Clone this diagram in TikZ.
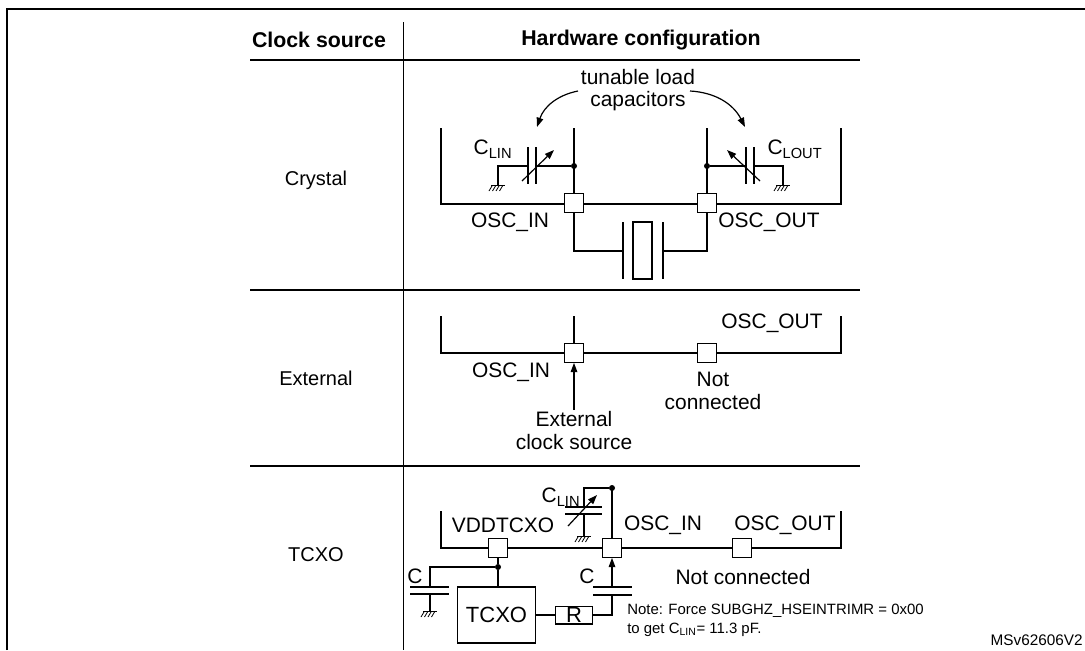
\documentclass[tikz,border=0pt]{standalone}
\usepackage{fontspec}
\setmainfont{Liberation Sans}
\usetikzlibrary{arrows.meta,positioning}

\begin{document}
\begin{tikzpicture}[
    x=0.75pt, y=-0.75pt,
    wire/.style={line width=0.9pt},
    chip/.style={line width=1.3pt},
    pad/.style={rectangle, draw, line width=0.8pt, fill=white, minimum size=14pt, inner sep=0pt},
    lbl/.style={font=\fontsize{15.7}{17}\selectfont, inner sep=1pt},
    head/.style={font=\fontsize{16}{18}\selectfont\bfseries},
    src/.style={font=\fontsize{15}{17}\selectfont},
    note/.style={font=\fontsize{11.2}{14}\selectfont, align=left, anchor=north west, inner sep=0pt},
    dot/.style={circle, fill, inner sep=0pt, minimum size=4.5pt},
    arrow/.style={wire, -{Triangle[length=7pt,width=5pt]}},
    gnd/.pic={\draw[line width=0.6pt] (-7,0) -- (7,0);
      \foreach \i in {-6,-2.5,1,4.5} \draw[line width=0.6pt] (\i,1) -- (\i-3,6);}
]
\useasboundingbox (0,0) rectangle (1085,650);

% Frame and table
\draw[line width=1.6pt] (7,650) -- (7,9) -- (1085,9);
\draw[line width=0.6pt] (403,22) -- (403,650);
\draw[line width=1.2pt] (250,60) -- (860,60);
\draw[line width=0.8pt] (250,290) -- (860,290);
\draw[line width=0.8pt] (250,466) -- (860,466);
\node[head] (hsrc) at (319,40) {Clock source};
\node[head] (hcfg) at (641,40) {Hardware configuration};
\node[src] (crystal) at (316,180) {Crystal};
\node[src] (external) at (316,378) {External};
\node[src] (tcxo) at (316,555) {TCXO};

% Crystal row
\draw[chip] (441,128) -- (441,204) -- (841,204) -- (841,128);
\draw[wire] (574,128) -- (574,203);
\draw[wire] (707,128) -- (707,203);
\draw[wire] (574,203) -- (574,251) -- (623,251);
\draw[wire] (663,251) -- (707,251) -- (707,203);
\node[pad] (xin) at (574,203) {};
\node[pad] (xout) at (707,203) {};
\draw[wire] (623,222) -- (623,279);
\draw[wire] (663,222) -- (663,279);
\draw[wire] (633,222) rectangle (652,279);
% left load capacitor
\node[dot] (xdin) at (574,166) {};
\draw[wire] (xdin) -- (536,166);
\draw[wire] (536,147) -- (536,184);
\draw[wire] (528,147) -- (528,184);
\draw[wire] (528,166) -- (498,166) -- (498,185);
\pic at (498,185) {gnd};
\draw[wire, -{Triangle[length=7pt,width=5pt]}] (522,181) -- (554,150);
\node[lbl] (clin) at (493,149) {C\textsubscript{LIN}};
% right load capacitor
\node[dot] (xdout) at (707,166) {};
\draw[wire] (xdout) -- (746,166);
\draw[wire] (746,147) -- (746,184);
\draw[wire] (754,147) -- (754,184);
\draw[wire] (754,166) -- (783,166) -- (783,185);
\pic at (783,185) {gnd};
\draw[wire, -{Triangle[length=7pt,width=5pt]}] (760,181) -- (727,150);
\node[lbl] (clout) at (795,149) {C\textsubscript{LOUT}};
\node[lbl] (xinl) at (510,222) {OSC\_IN};
\node[lbl] (xoutl) at (769,222) {OSC\_OUT};
\node[lbl, align=center] (tun) at (638,90) {tunable load\\capacitors};
\draw[arrow] (578,91) to[bend right=30] (537,127);
\draw[arrow] (690,91) to[bend left=30] (745,127);

% External row
\draw[chip] (441,316) -- (441,353) -- (841,353) -- (841,316);
\draw[wire] (574,316) -- (574,353);
\node[pad] (ein) at (574,353) {};
\node[pad] (eout) at (707,353) {};
\coordinate (eclk) at (574,410);
\draw[arrow] (eclk) -- (ein.south);
\node[lbl] (einl) at (511,372) {OSC\_IN};
\node[lbl] (eoutl) at (772,323) {OSC\_OUT};
\node[lbl, align=center] (enc) at (713,391) {Not\\connected};
\node[lbl, align=center, below=0pt of eclk] (eclkl) {External\\clock source};

% TCXO row
\draw[chip] (441,511) -- (441,548) -- (841,548) -- (841,511);
\draw[wire] (612,488) -- (612,548);
\node[pad] (vdd) at (498,548) {};
\node[pad] (tin) at (612,548) {};
\node[pad] (tout) at (742,548) {};
\node[lbl] (vddl) at (503,525) {VDDTCXO};
\node[lbl] (tinl) at (663,525) {OSC\_IN};
\node[lbl] (toutl) at (785,525) {OSC\_OUT};
% tuning capacitor on OSC_IN
\node[dot] (tdin) at (612,488) {};
\draw[wire] (tdin) -- (584,488) -- (584,507);
\draw[wire] (565,507) -- (602,507);
\draw[wire] (565,514) -- (602,514);
\draw[wire] (584,514) -- (584,536);
\pic at (584,536) {gnd};
\draw[wire, -{Triangle[length=7pt,width=5pt]}] (568,526) -- (597,495);
\node[lbl] (tclin) at (561,497) {C\textsubscript{LIN}};
% TCXO supply
\node[draw, wire, minimum width=59pt, minimum height=42pt, lbl, font=\fontsize{16.5}{18}\selectfont] (osc) at (496.5,615) {TCXO};
\node[dot] (tdv) at (498,567) {};
\draw[wire] (vdd.south) -- (tdv) -- (tdv |- osc.north);
\draw[wire] (tdv) -- (430,567) -- (430,587);
\draw[wire] (410,587) -- (449,587);
\draw[wire] (410,594) -- (449,594);
\draw[wire] (430,594) -- (430,611);
\pic at (430,611) {gnd};
\node[lbl] (cv) at (415,576) {C};
% coupling path
\node[draw, wire, minimum width=28pt, minimum height=12pt, inner sep=0pt, lbl, font=\fontsize{16.5}{18}\selectfont] (res) at (574,615) {R};
\draw[wire] (osc.east |- res) -- (res.west);
\draw[wire] (res.east) -- (612,615) -- (612,595);
\draw[wire] (593,595) -- (632,595);
\draw[wire] (593,587) -- (632,587);
\draw[arrow] (612,587) -- (tin.south);
\node[lbl] (cin) at (587,576) {C};
\node[lbl] (tnc) at (743,577) {Not connected};
\node[note] (tnote) at (627,604) {Note: Force SUBGHZ\_HSEINTRIMR = 0x00\\to get C\textsubscript{LIN}= 11.3 pF.};
\node[font=\fontsize{11.5}{13}\selectfont, anchor=east, inner sep=0pt] (ref) at (1083,640) {MSv62606V2};

\end{tikzpicture}
\end{document}
